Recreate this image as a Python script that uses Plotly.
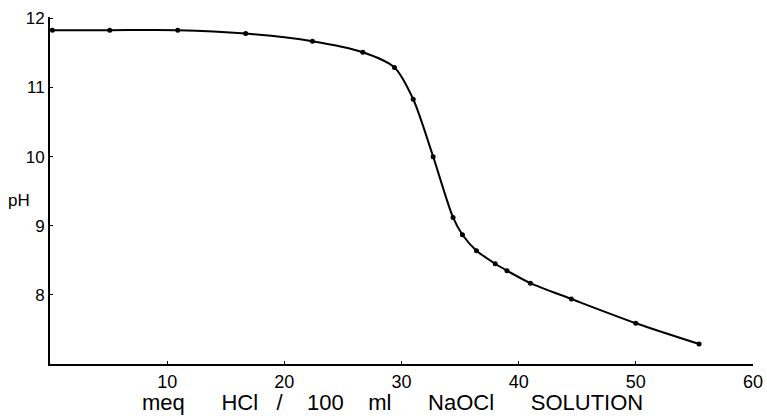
import plotly.graph_objects as go

# meq HCl / 100 ml NaOCl solution
meq_hcl = [0.2, 5.1, 10.9, 16.7, 22.4, 26.7, 29.4, 31.0, 32.7, 34.4, 35.2,
           36.4, 38.0, 39.0, 41.0, 44.5, 50.0, 55.4]
ph = [11.83, 11.83, 11.83, 11.78, 11.67, 11.51, 11.29, 10.83, 10.0, 9.12, 8.87,
      8.64, 8.45, 8.35, 8.17, 7.94, 7.59, 7.29]

x_ticks = [10, 20, 30, 40, 50, 60]
y_ticks = [8, 9, 10, 11, 12]

FONT = "Liberation Sans"
NB = "\u00a0"

fig = go.Figure()
fig.add_trace(go.Scatter(
    x=meq_hcl, y=ph, mode="lines+markers",
    line=dict(color="black", width=2, shape="spline", smoothing=0.8),
    marker=dict(color="black", size=5),
    showlegend=False, hoverinfo="skip",
))

title_text = ("meq" + NB * 6 + "HCl" + NB * 3 + "/" + NB * 4 + "100" + NB * 4 +
              "ml" + NB * 6 + "NaOCl" + NB * 6 + "SOLUTION")

fig.update_layout(
    width=767, height=416,
    margin=dict(l=50, r=14, t=17, b=52),
    paper_bgcolor="white", plot_bgcolor="white",
    font=dict(family=FONT, color="black", size=16),
    xaxis=dict(range=[0, 60], tickvals=x_ticks, ticktext=[str(v) for v in x_ticks],
               showline=True, linecolor="black", linewidth=2, mirror=False,
               showgrid=False, zeroline=False, ticks="inside", ticklen=3,
               tickcolor="black", tickfont=dict(size=18, family=FONT),
               automargin=False),
    yaxis=dict(range=[7, 12.02], tickvals=y_ticks, ticktext=[str(v) for v in y_ticks],
               showline=True, linecolor="black", linewidth=2, mirror=False,
               showgrid=False, zeroline=False, ticks="inside", ticklen=3,
               tickcolor="black", tickfont=dict(size=17, family=FONT),
               ticklabelstandoff=0, automargin=False),
    annotations=[
        dict(text="pH", xref="paper", yref="y", x=-0.062, y=9.36, showarrow=False,
             xanchor="left", yanchor="middle", font=dict(size=17, family=FONT)),
        dict(text=title_text, xref="paper", yref="paper", x=0.4865, y=-0.112,
             showarrow=False, xanchor="center", yanchor="middle",
             font=dict(size=22, family=FONT)),
    ],
)

fig.write_html("out.html", config={"displayModeBar": False},
               post_script="document.body.style.margin='0';document.body.style.overflow='hidden';")
